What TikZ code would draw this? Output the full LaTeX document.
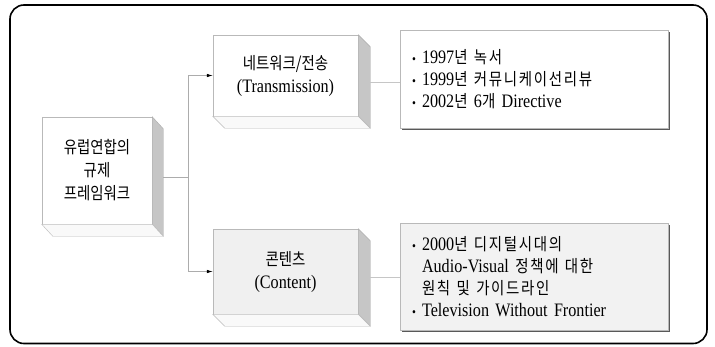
\documentclass[tikz,border=0pt]{standalone}
\usepackage{fontspec}
\setmainfont{Liberation Serif}[FakeStretch=0.85]
\newfontfamily\korfont{Noto Sans CJK KR}[FakeStretch=0.85]
\newfontfamily\korwide{Noto Sans CJK KR}[FakeStretch=0.85,LetterSpace=10]
\usetikzlibrary{arrows.meta,shadows}
\newcommand\kor[1]{{\korfont\fontsize{17}{23}\selectfont #1}}
\newcommand\korw[1]{{\korwide\fontsize{17}{22}\selectfont #1}}
\newcommand\bul{\makebox[10pt][l]{\fontsize{13}{13}\selectfont •}}
\newcommand\bulind{\hspace*{10pt}}
\newcommand\extrude[3]{%
  \filldraw[sideface] (#1.north east) -- ([shift={(#2,#3)}]#1.north east) -- ([shift={(#2,#3)}]#1.south east) -- (#1.south east) -- cycle;
  \filldraw[botface] (#1.south west) -- (#1.south east) -- ([shift={(#2,#3)}]#1.south east) -- ([shift={(#2,#3)}]#1.south west) -- cycle;}
\begin{document}
\begin{tikzpicture}[x=1pt,y=-1pt,
  front/.style={draw=gray!55, line width=0.5pt, fill=white, inner sep=0pt, align=center, font=\fontsize{19}{23}\selectfont},
  sideface/.style={fill=gray!45, draw=gray!65, line width=0.4pt},
  botface/.style={fill=gray!5, draw=gray!55, line width=0.4pt},
  rbox/.style={draw=gray!55, line width=0.5pt, fill=white, drop shadow={shadow xshift=2pt, shadow yshift=-2pt, fill=black!65, opacity=1}, text width=244pt, align=left, inner xsep=12pt, font=\fontsize{19}{22}\selectfont},
  conn/.style={draw=gray!65, line width=0.6pt},
  conn2/.style={draw=gray!45, line width=0.5pt},
  arr/.style={conn, -{Latex[length=6pt,width=3.5pt,fill=black,color=black]}}]
\useasboundingbox (0,0) rectangle (715,346);
\fill[white] (0,0) rectangle (715,346);
\draw[line width=1.6pt, rounded corners=14pt] (10,5) rectangle (707,343.5);

% left box
\node[front, minimum width=110pt, minimum height=107pt] (eu) at (97,170.5) {\kor{유럽연합의}\\\kor{규제}\\\kor{프레임워크}};
\extrude{eu}{11}{12}

% middle boxes
\node[front, minimum width=145pt, minimum height=81pt] (net) at (285.5,75.5) {\kor{네트워크/전송}\\(Transmission)};
\extrude{net}{12}{12}
\node[front, fill=gray!12, minimum width=145pt, minimum height=85pt] (con) at (285.5,271.5) {\kor{콘텐츠}\\(Content)};
\extrude{con}{12}{12}

% right boxes
\node[rbox, minimum height=98pt] (tr) at (534,79) {\bul 1997\korw{년 녹서}\\ \bul 1999\korw{년 커뮤니케이선리뷰}\\ \bul 2002\korw{년} 6\korw{개} Directive};
\node[rbox, fill=gray!10, minimum height=107pt] (cb) at (534,276.5) {\bul 2000\korw{년 디지털시대의}\\ \bulind Audio-Visual \korw{정책에 대한}\\ \bulind\korw{원칙 및 가이드라인}\\ \bul Television Without Frontier};

% connectors
\coordinate (euside) at (163,177);
\coordinate (br) at (188,177);
\draw[conn] (euside) -- (br);
\draw[arr] (br) |- (net.west);
\draw[arr] (br) |- (con.west);
\coordinate (netside) at (370,82);
\draw[conn2] (netside) -- (tr.west |- netside);
\coordinate (conside) at (370,277);
\draw[conn2] (conside) -- (cb.west |- conside);
\end{tikzpicture}
\end{document}
